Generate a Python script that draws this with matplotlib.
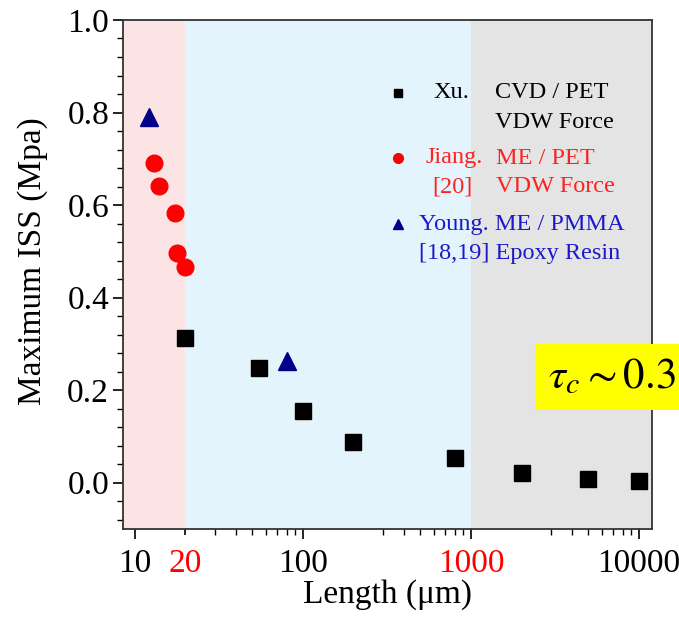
import matplotlib.pyplot as plt
from matplotlib.ticker import FixedLocator, NullFormatter, MultipleLocator

plt.rcParams['font.family'] = ['Liberation Serif', 'DejaVu Serif']
plt.rcParams['mathtext.fontset'] = 'stix'

# data
xu_len = [20, 55, 100, 200, 800, 2000, 5000, 10000]
xu_iss = [0.312, 0.249, 0.156, 0.089, 0.054, 0.021, 0.009, 0.003]

jiang_len = [13.0, 13.9, 17.3, 17.8, 20.0]
jiang_iss = [0.690, 0.641, 0.582, 0.497, 0.466]

young_len = [12.2, 80]
young_iss = [0.790, 0.264]

x_ticks = [10, 20, 100, 1000, 10000]
x_labels = ['10', '20', '100', '1000', '10000']
y_ticks = [0.0, 0.2, 0.4, 0.6, 0.8, 1.0]

fig = plt.figure(figsize=(6.79, 6.24), dpi=100)
ax = fig.add_axes([0.1811, 0.1522, 0.9602 - 0.1811, 0.968 - 0.1522])

ax.set_xscale('log')
ax.set_xlim(8.5, 11950)
ax.set_ylim(-0.1, 1.0)

# shaded regimes
ax.axvspan(8.5, 20, color='#fde4e4', lw=0)
ax.axvspan(20, 1000, color='#e3f4fc', lw=0)
ax.axvspan(1000, 11950, color='#e4e4e4', lw=0)

ax.plot(xu_len, xu_iss, 's', color='black', ms=11, ls='none', zorder=3)
ax.plot(jiang_len, jiang_iss, 'o', color='#ff0000', ms=12, ls='none', zorder=3)
ax.plot(young_len, young_iss, '^', color='#00008b', ms=13, ls='none', zorder=3)

# ticks
minors = [m * d for d in (10, 100, 1000) for m in range(3, 10)]
ax.xaxis.set_minor_locator(FixedLocator(minors))
ax.xaxis.set_minor_formatter(NullFormatter())
ax.set_xticks(x_ticks)
ax.set_xticklabels(x_labels)
for lab in ax.get_xticklabels():
    if lab.get_text() in ('20', '1000'):
        lab.set_color('red')
ax.yaxis.set_minor_locator(MultipleLocator(0.04))
ax.set_yticks(y_ticks)
ax.set_yticklabels(['%.1f' % v for v in y_ticks])

ax.tick_params(which='major', direction='out', length=7, width=1.2, labelsize=24, pad=3)
ax.tick_params(which='minor', direction='out', length=4, width=1.0)
ax.tick_params(axis='x', which='major', pad=7)
# the 20 tick is drawn short like the minor ones
ax.xaxis.get_major_ticks()[1].tick1line.set_markersize(4)
for sp in ax.spines.values():
    sp.set_linewidth(1.3)
    sp.set_color('#333333')

ax.set_xlabel('Length (\u03bcm)', fontsize=24, labelpad=0)
ax.set_ylabel('Maximum ISS (Mpa)', fontsize=24)
ax.yaxis.set_label_coords(-0.142, 0.527)

# hand-made legend
def px(x, y):
    return x / 679, 1 - y / 624

fs = 17.5
fig.lines.append(plt.Line2D([398 / 679], [1 - 93 / 624], marker='s', color='black', ms=6, transform=fig.transFigure))
fig.lines.append(plt.Line2D([398 / 679], [1 - 158 / 624], marker='o', color='red', ms=7, transform=fig.transFigure))
fig.lines.append(plt.Line2D([398 / 679], [1 - 224 / 624], marker='^', color='#00008b', ms=7.5, transform=fig.transFigure))

fig.text(*px(433, 93), 'Xu.', fontsize=fs, color='black', va='center')
fig.text(*px(495, 93), 'CVD / PET', fontsize=fs, color='black', va='center')
fig.text(*px(495, 122), 'VDW Force', fontsize=fs, color='black', va='center')
fig.text(*px(425, 158), 'Jiang.', fontsize=fs, color='#ff2020', va='center')
fig.text(*px(496, 158), 'ME / PET', fontsize=fs, color='#ff2020', va='center')
fig.text(*px(432, 187), '[20]', fontsize=fs, color='#ff2020', va='center')
fig.text(*px(496, 187), 'VDW Force', fontsize=fs, color='#ff2020', va='center')
fig.text(*px(419, 224), 'Young. ME / PMMA', fontsize=fs, color='#1a1acc', va='center')
fig.text(*px(419, 253), '[18,19] Epoxy Resin', fontsize=fs, color='#1a1acc', va='center')

# yellow annotation box, runs off the right edge as in the original
fig.text(*px(548, 377), r'$\tau_c \sim 0.3$', fontsize=31, color='black', va='center',
         bbox=dict(boxstyle='square,pad=0.3', fc='#ffff00', ec='none'))

fig.savefig('out.png', dpi=100)
